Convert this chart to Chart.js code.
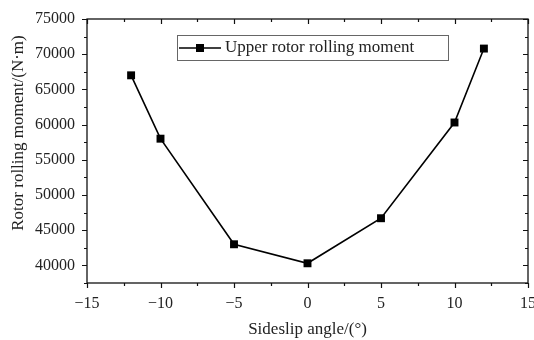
<!DOCTYPE html>
<html>
<head>
<meta charset="utf-8">
<title>Upper rotor rolling moment</title>
<script src="https://cdn.jsdelivr.net/npm/chart.js@4"></script>
<style>
  html, body { margin: 0; padding: 0; background: #fff; }
  #wrap { width: 534px; height: 340px; position: relative; }
</style>
</head>
<body>
<div id="wrap"><canvas id="momentChart" width="534" height="340"></canvas></div>
<script>
// sideslip angle (deg) and rolling moment (N·m)
const sideslipAngles = [-12, -10, -5, 0, 5, 10, 12];
const rollingMoments = [67000, 58000, 43000, 40300, 46700, 60300, 70800];
const xTicks = [-15, -10, -5, 0, 5, 10, 15];
const yTicks = [40000, 45000, 50000, 55000, 60000, 65000, 70000, 75000];
const seriesName = 'Upper rotor rolling moment';

const serif = '"Liberation Serif", "Times New Roman", serif';

// frame, tick marks, axis title and legend box
const framePlugin = {
  id: 'frame',
  afterDraw(chart) {
    const { ctx, chartArea: a, scales } = chart;
    const xs = scales.x, ys = scales.y;
    ctx.save();
    ctx.strokeStyle = '#111';
    ctx.lineWidth = 1.3;
    ctx.strokeRect(a.left, a.top, a.right - a.left, a.bottom - a.top);

    ctx.lineWidth = 1.2;
    ctx.beginPath();
    // x ticks: outward at bottom, inward at top
    for (let v = -15; v <= 15; v += 2.5) {
      const px = Math.round(xs.getPixelForValue(v)) + 0.5;
      const len = v % 5 === 0 ? 5 : 3;
      ctx.moveTo(px, a.bottom); ctx.lineTo(px, a.bottom + len);
      ctx.moveTo(px, a.top); ctx.lineTo(px, a.top + len);
    }
    // y ticks: outward at left, inward at right
    for (let v = 37500; v <= 75000; v += 2500) {
      const py = Math.round(ys.getPixelForValue(v)) + 0.5;
      const len = v % 5000 === 0 ? 5 : 3;
      ctx.moveTo(a.left, py); ctx.lineTo(a.left - len, py);
      ctx.moveTo(a.right, py); ctx.lineTo(a.right - len, py);
    }
    ctx.stroke();

    // y axis title
    ctx.fillStyle = '#222';
    ctx.font = '17px ' + serif;
    ctx.textAlign = 'center';
    ctx.textBaseline = 'middle';
    ctx.translate(19, 133);
    ctx.rotate(-Math.PI / 2);
    ctx.fillText('Rotor rolling moment/(N\u00b7m)', 0, 0);
    ctx.restore();

    // legend
    ctx.save();
    ctx.fillStyle = '#fff';
    ctx.fillRect(177, 35, 271, 26);
    ctx.strokeStyle = '#666';
    ctx.lineWidth = 1;
    ctx.strokeRect(177.5, 35.5, 271, 25);
    ctx.strokeStyle = '#000';
    ctx.lineWidth = 1.6;
    ctx.beginPath();
    ctx.moveTo(179, 48); ctx.lineTo(221, 48);
    ctx.stroke();
    ctx.fillStyle = '#000';
    ctx.fillRect(196, 44, 8, 8);
    ctx.fillStyle = '#222';
    ctx.font = '17px ' + serif;
    ctx.textAlign = 'left';
    ctx.textBaseline = 'middle';
    ctx.fillText(seriesName, 225, 48);
    ctx.restore();
  }
};

const minusSign = v => String(v).replace('-', '\u2212');

new Chart(document.getElementById('momentChart'), {
  type: 'scatter',
  data: {
    datasets: [{
      label: seriesName,
      data: sideslipAngles.map((x, i) => ({ x, y: rollingMoments[i] })),
      showLine: true,
      borderColor: '#000',
      borderWidth: 1.6,
      pointStyle: 'rect',
      pointRadius: 5.6,
      pointBackgroundColor: '#000',
      pointBorderColor: '#000',
      pointBorderWidth: 0
    }]
  },
  options: {
    responsive: false,
    animation: false,
    layout: { padding: { top: 19, right: 6, left: 0, bottom: 0 } },
    plugins: {
      legend: { display: false },
      tooltip: { enabled: false }
    },
    scales: {
      x: {
        type: 'linear',
        min: -15,
        max: 15,
        afterBuildTicks: s => { s.ticks = xTicks.map(value => ({ value })); },
        afterFit: s => { s.height = 57; s.paddingLeft = 0; s.paddingRight = 0; },
        grid: { display: false, drawTicks: false },
        border: { display: false },
        ticks: {
          padding: 11,
          color: '#222',
          font: { family: serif, size: 16 },
          callback: v => minusSign(v)
        },
        title: {
          display: true,
          text: 'Sideslip angle/(\u00b0)',
          color: '#222',
          font: { family: serif, size: 17 },
          padding: { top: 5, bottom: 0 }
        }
      },
      y: {
        type: 'linear',
        min: 37500,
        max: 75000,
        afterBuildTicks: s => { s.ticks = yTicks.map(value => ({ value })); },
        afterFit: s => { s.width = 87; s.paddingTop = 0; s.paddingBottom = 0; },
        grid: { display: false, drawTicks: false },
        border: { display: false },
        ticks: {
          padding: 12,
          color: '#222',
          font: { family: serif, size: 16 },
          callback: v => String(v)
        }
      }
    }
  },
  plugins: [framePlugin]
});
</script>
</body>
</html>
